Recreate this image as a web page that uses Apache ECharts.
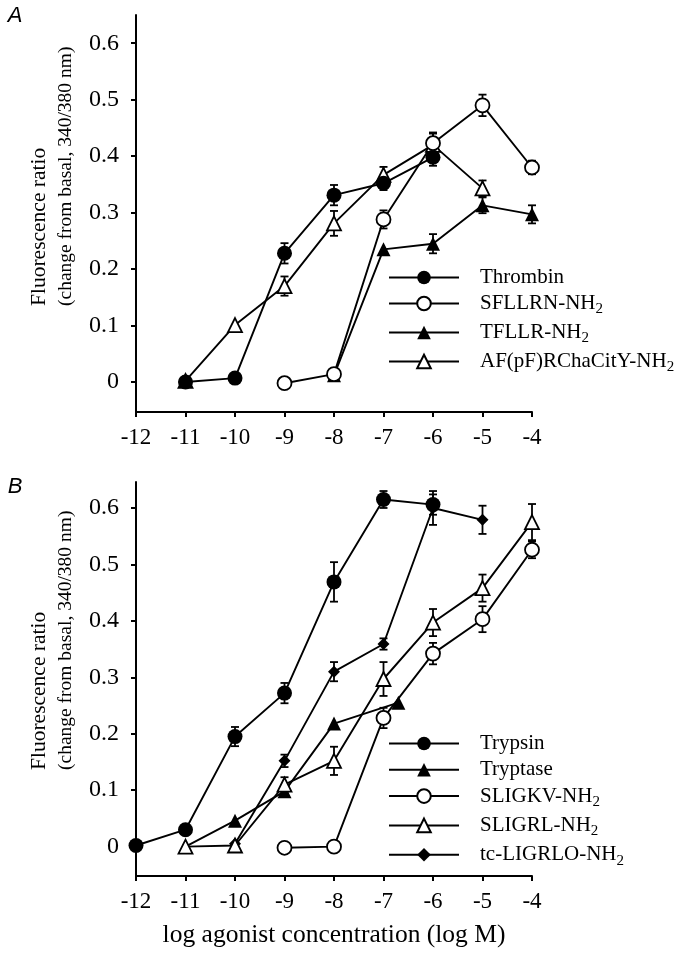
<!DOCTYPE html>
<html><head><meta charset="utf-8">
<script src="https://cdn.jsdelivr.net/npm/echarts@6/dist/echarts.min.js"></script>
<style>html,body{margin:0;padding:0;background:#fff}#c{width:692px;height:955px}</style>
</head><body><div id="c"></div><script>
// ---------- Data: panel A ----------
const thrombinX = [-11, -10, -9, -8, -7, -6];
const thrombinY = [0.000, 0.007, 0.228, 0.331, 0.352, 0.398];
const thrombinErr = [0, 0, 0.018, 0.018, 0.012, 0.015];

const sfllrnX = [-9, -8, -7, -6, -5, -4];
const sfllrnY = [-0.002, 0.014, 0.288, 0.423, 0.490, 0.380];
const sfllrnErr = [0, 0, 0.016, 0.019, 0.019, 0.012];

const tfllrX = [-8, -7, -6, -5, -4];
const tfllrY = [0.012, 0.235, 0.245, 0.313, 0.297];
const tfllrErr = [0, 0, 0.017, 0.014, 0.016];

const afX = [-11, -10, -9, -8, -7, -6, -5];
const afY = [0.002, 0.101, 0.170, 0.281, 0.367, 0.420, 0.343];
const afErr = [0, 0, 0.017, 0.022, 0.014, 0.020, 0.014];

// ---------- Data: panel B ----------
const trypsinX = [-12, -11, -10, -9, -8, -7, -6];
const trypsinY = [0.002, 0.030, 0.195, 0.272, 0.469, 0.615, 0.606];
const trypsinErr = [0, 0, 0.017, 0.018, 0.035, 0.015, 0.018];

const tryptaseX = [-11, -10, -9, -8, -6.7];
const tryptaseY = [0.000, 0.046, 0.098, 0.218, 0.255];
const tryptaseErr = [0, 0, 0, 0, 0];

const sligkvX = [-9, -8, -7, -6, -5, -4];
const sligkvY = [-0.002, 0.000, 0.228, 0.342, 0.403, 0.526];
const sligkvErr = [0, 0, 0.018, 0.019, 0.023, 0.015];

const sligrlX = [-11, -10, -9, -8, -7, -6, -5, -4];
const sligrlY = [0.000, 0.002, 0.110, 0.152, 0.297, 0.397, 0.458, 0.575];
const sligrlErr = [0, 0, 0.013, 0.025, 0.030, 0.024, 0.024, 0.032];

const tcX = [-10, -9, -8, -7, -6, -5];
const tcY = [0.005, 0.152, 0.310, 0.359, 0.600, 0.579];
const tcErr = [0, 0.011, 0.017, 0.010, 0.030, 0.025];

// ---------- Ticks / labels ----------
const yTicks = [0, 0.1, 0.2, 0.3, 0.4, 0.5, 0.6];
const legendA = ['Thrombin', 'SFLLRN-NH2', 'TFLLR-NH2', 'AF(pF)RChaCitY-NH2'];
const legendB = ['Trypsin', 'Tryptase', 'SLIGKV-NH2', 'SLIGRL-NH2', 'tc-LIGRLO-NH2'];
const yTitle1 = 'Fluorescence ratio';
const yTitle2 = '(change from basal, 340/380 nm)';
const xTitle = 'log agonist concentration (log M)';

const FONT = '"Liberation Serif", "Times New Roman", serif';

function pts(xs, ys) { return xs.map((x, i) => [x, ys[i]]); }
function errs(xs, ys, es) { return xs.map((x, i) => [x, ys[i], es[i]]); }

function lineSeries(name, xs, ys, symbol, filled, size, gi) {
  return {
    type: 'line', name: name, xAxisIndex: gi, yAxisIndex: gi,
    data: pts(xs, ys), symbol: symbol, symbolSize: size, showSymbol: true,
    lineStyle: { color: '#000', width: 1.9 },
    itemStyle: { color: filled ? '#000' : '#fff', borderColor: '#000', borderWidth: filled ? 0 : 1.8, opacity: 1 },
    emphasis: { disabled: true }, animation: false, z: 3
  };
}
function errSeries(xs, ys, es, gi) {
  return {
    type: 'custom', xAxisIndex: gi, yAxisIndex: gi, data: errs(xs, ys, es),
    dimensions: ['x', 'y', 'e'], encode: { x: 0, y: 1 }, z: 2, silent: true, animation: false,
    renderItem: function (params, api) {
      const x = api.value(0), y = api.value(1), e = api.value(2);
      if (!e) return null;
      const t = api.coord([x, y + e]), b = api.coord([x, y - e]);
      const c = 4;
      const st = { stroke: '#000', lineWidth: 1.8 };
      return {
        type: 'group', children: [
          { type: 'line', shape: { x1: t[0], y1: t[1], x2: b[0], y2: b[1] }, style: st },
          { type: 'line', shape: { x1: t[0] - c, y1: t[1], x2: t[0] + c, y2: t[1] }, style: st },
          { type: 'line', shape: { x1: b[0] - c, y1: b[1], x2: b[0] + c, y2: b[1] }, style: st }
        ]
      };
    }
  };
}

const axisLineStyle = { color: '#000', width: 2 };
function xAxisFor(i) {
  const ax = {
    type: 'value', gridIndex: i, min: -12, max: -4, interval: 1,
    axisLine: { show: true, onZero: false, lineStyle: axisLineStyle },
    axisTick: { show: true, length: 5, lineStyle: axisLineStyle },
    axisLabel: { color: '#000', fontFamily: FONT, fontSize: 23, margin: 14 },
    splitLine: { show: false }
  };
  if (i === 1) {
    ax.name = xTitle; ax.nameLocation = 'middle'; ax.nameGap = 46;
    ax.nameTextStyle = { color: '#000', fontFamily: FONT, fontSize: 25.5 };
  }
  return ax;
}
function yAxisFor(i, mn, mx) {
  return {
    type: 'value', gridIndex: i, min: mn, max: mx,
    axisLine: { show: true, onZero: false, lineStyle: axisLineStyle },
    axisTick: { show: true, length: 5, lineStyle: axisLineStyle, customValues: yTicks },
    axisLabel: {
      color: '#000', fontFamily: FONT, fontSize: 24, margin: 17, customValues: yTicks,
      formatter: v => (Math.abs(v) < 1e-9 ? '0' : v.toFixed(1))
    },
    splitLine: { show: false }
  };
}
function legendFmt(name) {
  if (name.endsWith('NH2')) return '{sp| }{n|' + name.slice(0, -1) + '}{sub|2}';
  return '{sp| }{n|' + name + '}';
}
function legendFor(names, top, gap) {
  return {
    data: names, orient: 'vertical', left: 383, top: top, itemWidth: 70, itemHeight: 17, itemGap: gap,
    selectedMode: false, formatter: legendFmt,
    textStyle: {
      color: '#000', fontFamily: FONT, fontSize: 21,
      rich: {
        sp: { width: 16 },
        n: { fontFamily: FONT, fontSize: 21, color: '#000', lineHeight: 27 },
        sub: { fontFamily: FONT, fontSize: 15, color: '#000', lineHeight: 15, verticalAlign: 'bottom' }
      }
    }
  };
}
const titleFont1 = '21.5px "Liberation Serif", serif';
const titleFont2 = '19.5px "Liberation Serif", serif';
const letterFont = 'italic 22px "Liberation Sans", Arial, sans-serif';

const chart = echarts.init(document.getElementById('c'), null, { renderer: 'canvas' });
chart.setOption({
  backgroundColor: '#fff',
  animation: false,
  grid: [
    { left: 136, top: 15, width: 396, height: 397 },
    { left: 136, top: 482, width: 396, height: 394 }
  ],
  xAxis: [xAxisFor(0), xAxisFor(1)],
  yAxis: [yAxisFor(0, -0.053, 0.65), yAxisFor(1, -0.052, 0.646)],
  legend: [legendFor(legendA, 262, 5), legendFor(legendB, 728, 5.3)],
  graphic: [
    { type: 'text', x: 15, y: 16, style: { text: 'A', font: letterFont, align: 'center', verticalAlign: 'middle', fill: '#000' } },
    { type: 'text', x: 15, y: 487, style: { text: 'B', font: letterFont, align: 'center', verticalAlign: 'middle', fill: '#000' } },
    { type: 'text', x: 39, y: 306, rotation: Math.PI / 2, style: { text: yTitle1, font: titleFont1, align: 'left', verticalAlign: 'middle', fill: '#000' } },
    { type: 'text', x: 66, y: 306, rotation: Math.PI / 2, style: { text: yTitle2, font: titleFont2, align: 'left', verticalAlign: 'middle', fill: '#000' } },
    { type: 'text', x: 39, y: 770, rotation: Math.PI / 2, style: { text: yTitle1, font: titleFont1, align: 'left', verticalAlign: 'middle', fill: '#000' } },
    { type: 'text', x: 66, y: 770, rotation: Math.PI / 2, style: { text: yTitle2, font: titleFont2, align: 'left', verticalAlign: 'middle', fill: '#000' } }
  ],
  series: [
    errSeries(thrombinX, thrombinY, thrombinErr, 0),
    errSeries(sfllrnX, sfllrnY, sfllrnErr, 0),
    errSeries(tfllrX, tfllrY, tfllrErr, 0),
    errSeries(afX, afY, afErr, 0),
    lineSeries('AF(pF)RChaCitY-NH2', afX, afY, 'triangle', false, 14, 0),
    lineSeries('TFLLR-NH2', tfllrX, tfllrY, 'triangle', true, 14, 0),
    lineSeries('Thrombin', thrombinX, thrombinY, 'circle', true, 15, 0),
    lineSeries('SFLLRN-NH2', sfllrnX, sfllrnY, 'circle', false, 14, 0),

    errSeries(trypsinX, trypsinY, trypsinErr, 1),
    errSeries(tryptaseX, tryptaseY, tryptaseErr, 1),
    errSeries(sligkvX, sligkvY, sligkvErr, 1),
    errSeries(sligrlX, sligrlY, sligrlErr, 1),
    errSeries(tcX, tcY, tcErr, 1),
    lineSeries('Tryptase', tryptaseX, tryptaseY, 'triangle', true, 14, 1),
    lineSeries('tc-LIGRLO-NH2', tcX, tcY, 'diamond', true, 12, 1),
    lineSeries('SLIGRL-NH2', sligrlX, sligrlY, 'triangle', false, 14, 1),
    lineSeries('Trypsin', trypsinX, trypsinY, 'circle', true, 15, 1),
    lineSeries('SLIGKV-NH2', sligkvX, sligkvY, 'circle', false, 14, 1)
  ]
});
</script></body></html>
